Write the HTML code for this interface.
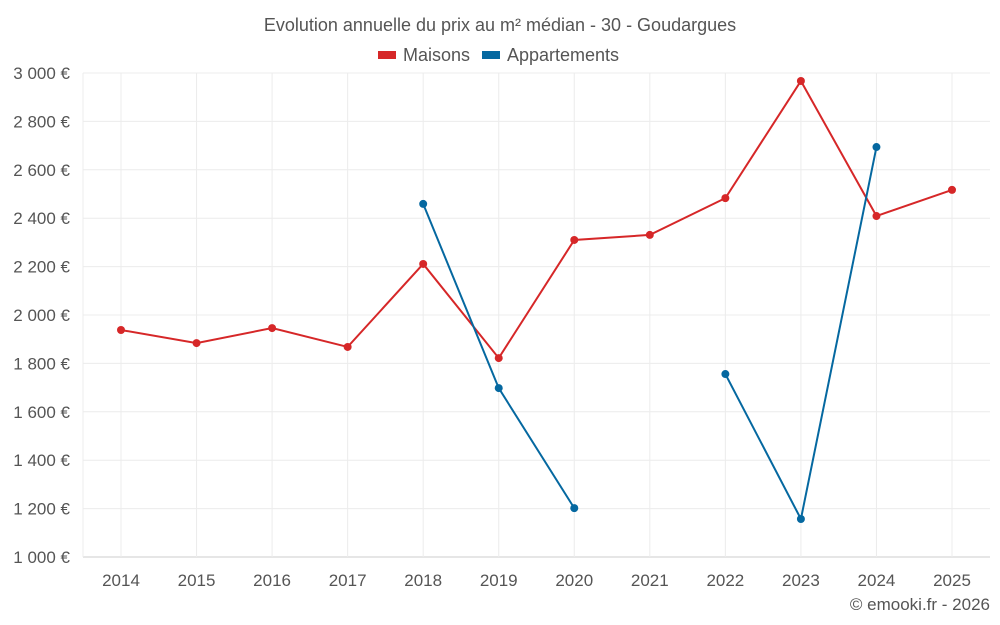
<!DOCTYPE html>
<html><head><meta charset="utf-8"><style>
html,body{margin:0;padding:0;background:#fff;}
svg{display:block;font-family:"Liberation Sans",sans-serif;}
</style></head><body>
<svg id="chart" width="1000" height="625">
<text x="500" y="31" text-anchor="middle" font-size="18" fill="#555">Evolution annuelle du prix au m² médian - 30 - Goudargues</text>
<g>
<g><rect x="378" y="51" width="18" height="8" fill="#d62728"/><text x="403" y="61" font-size="18" fill="#555">Maisons</text></g>
<g><rect x="482" y="51" width="18" height="8" fill="#0568a0"/><text x="507" y="61" font-size="18" fill="#555">Appartements</text></g>
</g>
<g id="grid"></g><g id="axes"></g><g id="series"></g>
<text x="990" y="610" text-anchor="end" font-size="17" fill="#555">© emooki.fr - 2026</text>
</svg>
<script>
const years=[2014,2015,2016,2017,2018,2019,2020,2021,2022,2023,2024,2025];
const maisons=[1938,1884,1946,1868,2211,1822,2310,2331,2483,2967,2409,2517];
const appartements=[null,null,null,null,2459,1698,1202,null,1756,1157,2694,null];
const yTicks=[1000,1200,1400,1600,1800,2000,2200,2400,2600,2800,3000];
const L=83,R=990,T=73,B=557;
const NS="http://www.w3.org/2000/svg";
function x(i){return 121+i*(952-121)/(years.length-1);}
function y(v){return B-(v-1000)/2000*(B-T);}
function mk(tag,a,parent){const e=document.createElementNS(NS,tag);for(const k in a)e.setAttribute(k,a[k]);document.getElementById(parent).appendChild(e);return e;}
function fmt(v){return String(v).replace(/\B(?=(\d{3})+(?!\d))/g," ")+" €";}
yTicks.forEach(v=>{
 const g=mk("line",{x1:L,x2:R,y1:y(v),y2:y(v),stroke:v===1000?"#ccc":"#ececec"},"grid");
 
 
 const t=mk("text",{x:70,y:y(v)+6,"text-anchor":"end","font-size":17,fill:"#555"},"axes");
 t.textContent=fmt(v);
 
 
});
mk("line",{x1:L,x2:L,y1:T,y2:B,stroke:"#ececec"},"grid");
years.forEach((yr,i)=>{
 const g=mk("line",{x1:x(i),x2:x(i),y1:T,y2:B,stroke:"#ececec"},"grid");
 
 
 const t=mk("text",{x:x(i),y:586,"text-anchor":"middle","font-size":17,fill:"#555"},"axes");
 t.textContent=yr;
 
 
});
function draw(data,color,name){
 let seg=[];
 const segs=[];
 data.forEach((v,i)=>{if(v==null){if(seg.length)segs.push(seg);seg=[];}else seg.push([x(i),y(v)]);});
 if(seg.length)segs.push(seg);
 segs.forEach(s=>{
  const p=mk("polyline",{points:s.map(q=>q.join(",")).join(" "),fill:"none",stroke:color,"stroke-width":2},"series");
  
  
 });
 data.forEach((v,i)=>{if(v==null)return;
  const c=mk("circle",{cx:x(i),cy:y(v),r:4,fill:color},"series");
  
  
 });
}
draw(maisons,"#d62728","maisons");
draw(appartements,"#0568a0","appartements");
</script>
</body></html>
